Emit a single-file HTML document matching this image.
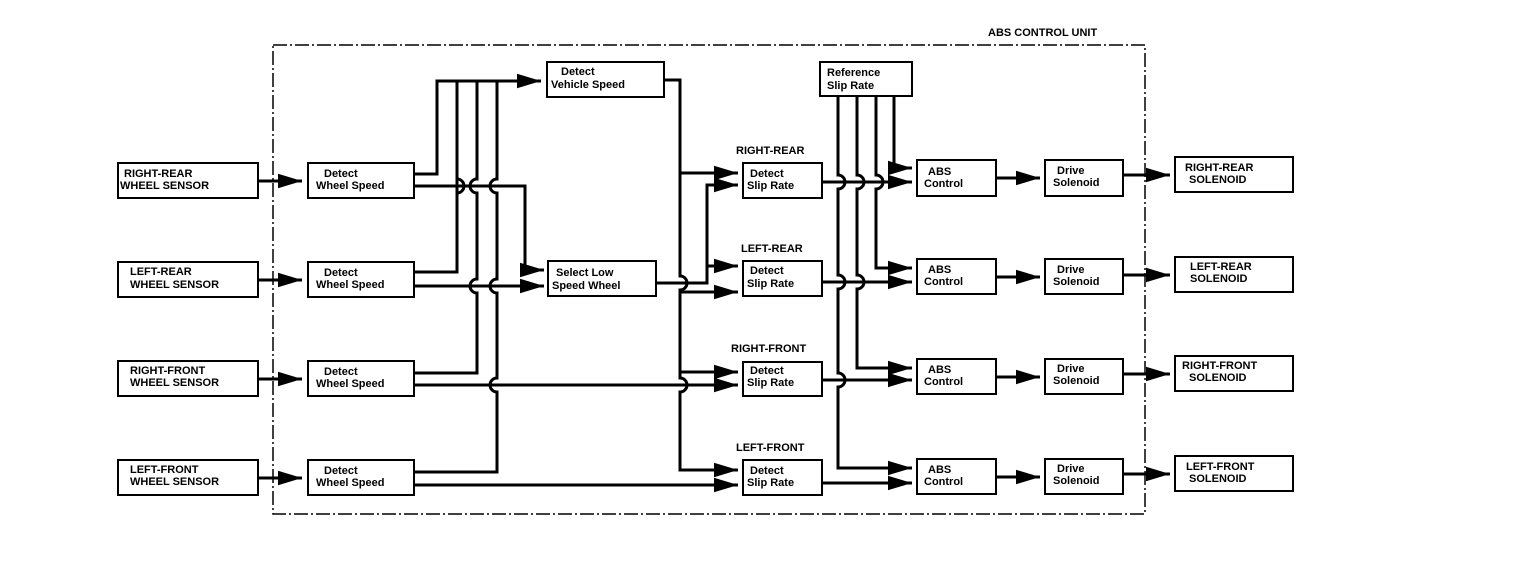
<!DOCTYPE html>
<html><head><meta charset="utf-8"><style>
html,body{margin:0;padding:0;background:#fff;}
svg{display:block;}
text{font-family:"Liberation Sans",sans-serif;font-weight:bold;font-size:11px;fill:#000;}
</style></head><body>
<svg width="1520" height="582" viewBox="0 0 1520 582" xmlns="http://www.w3.org/2000/svg">
<defs>
<marker id="a" markerWidth="8" markerHeight="6" refX="8" refY="3" orient="auto" markerUnits="strokeWidth">
<path d="M0,0.6 L8,3 L0,5.4 Z" fill="#000"/></marker>
</defs>
<g fill="none" stroke="#000">
<rect x="273" y="45" width="872" height="469" stroke-width="1.5" stroke-dasharray="14,3,2,3"/>
</g>
<text x="988" y="36">ABS CONTROL UNIT</text>
<g fill="#fff" stroke="#000" stroke-width="2">
<!-- sensors -->
<rect x="118" y="163" width="140" height="35"/>
<rect x="118" y="262" width="140" height="35"/>
<rect x="118" y="361" width="140" height="35"/>
<rect x="118" y="460" width="140" height="35"/>
<!-- DWS -->
<rect x="308" y="163" width="106" height="35"/>
<rect x="308" y="262" width="106" height="35"/>
<rect x="308" y="361" width="106" height="35"/>
<rect x="308" y="460" width="106" height="35"/>
<rect x="547" y="62" width="117" height="35"/>
<rect x="548" y="261" width="108" height="35"/>
<rect x="820" y="62" width="92" height="34"/>
<!-- DSR -->
<rect x="743" y="163" width="79" height="35"/>
<rect x="743" y="261" width="79" height="35"/>
<rect x="743" y="362" width="79" height="34"/>
<rect x="743" y="460" width="79" height="35"/>
<!-- ABS -->
<rect x="917" y="160" width="79" height="36"/>
<rect x="917" y="259" width="79" height="35"/>
<rect x="917" y="359" width="79" height="35"/>
<rect x="917" y="459" width="79" height="35"/>
<!-- Drive -->
<rect x="1045" y="160" width="78" height="36"/>
<rect x="1045" y="259" width="78" height="35"/>
<rect x="1045" y="359" width="78" height="35"/>
<rect x="1045" y="459" width="78" height="35"/>
<!-- solenoids -->
<rect x="1175" y="157" width="118" height="35"/>
<rect x="1175" y="257" width="118" height="35"/>
<rect x="1175" y="356" width="118" height="35"/>
<rect x="1175" y="456" width="118" height="35"/>
</g>
<g fill="none" stroke="#000" stroke-width="3">
<path d="M258 181 H302" marker-end="url(#a)"/>
<path d="M258 280 H302" marker-end="url(#a)"/>
<path d="M258 379 H302" marker-end="url(#a)"/>
<path d="M258 478 H302" marker-end="url(#a)"/>
<path d="M414 174 H437 V81 H541" marker-end="url(#a)"/>
<path d="M414 272 H457 V81"/>
<path d="M414 373 H477 V293 A7 7 0 0 1 477 279 V193 A7 7 0 0 1 477 179 V81"/>
<path d="M414 472 H497 V392 A7 7 0 0 1 497 378 V293 A7 7 0 0 1 497 279 V193 A7 7 0 0 1 497 179 V81"/>
<path d="M457 179 A7 7 0 0 1 457 193"/>
<path d="M414 186 H525 V270 H544" marker-end="url(#a)"/>
<path d="M414 286 H544" marker-end="url(#a)"/>
<path d="M414 385 H738" marker-end="url(#a)"/>
<path d="M414 485 H738" marker-end="url(#a)"/>
<path d="M664 80 H680 V276 A7 7 0 0 1 680 290 V378 A7 7 0 0 1 680 392 V470 H738" marker-end="url(#a)"/>
<path d="M680 173 H738" marker-end="url(#a)"/>
<path d="M680 292 H738" marker-end="url(#a)"/>
<path d="M680 372 H738" marker-end="url(#a)"/>
<path d="M656 283 H707 V185 H738" marker-end="url(#a)"/>
<path d="M707 266 H738" marker-end="url(#a)"/>
<path d="M838 96 V175 A7 7 0 0 1 838 189 V275 A7 7 0 0 1 838 289 V373 A7 7 0 0 1 838 387 V468 H912" marker-end="url(#a)"/>
<path d="M857 96 V175 A7 7 0 0 1 857 189 V275 A7 7 0 0 1 857 289 V368 H912" marker-end="url(#a)"/>
<path d="M876 96 V175 A7 7 0 0 1 876 189 V268 H912" marker-end="url(#a)"/>
<path d="M894 96 V168 H912" marker-end="url(#a)"/>
<path d="M822 182 H912" marker-end="url(#a)"/>
<path d="M822 282 H912" marker-end="url(#a)"/>
<path d="M822 380 H912" marker-end="url(#a)"/>
<path d="M822 483 H912" marker-end="url(#a)"/>
<path d="M996 178 H1040" marker-end="url(#a)"/>
<path d="M996 277 H1040" marker-end="url(#a)"/>
<path d="M996 377 H1040" marker-end="url(#a)"/>
<path d="M996 477 H1040" marker-end="url(#a)"/>
<path d="M1123 175 H1170" marker-end="url(#a)"/>
<path d="M1123 275 H1170" marker-end="url(#a)"/>
<path d="M1123 374 H1170" marker-end="url(#a)"/>
<path d="M1123 474 H1170" marker-end="url(#a)"/>
</g>
<g>
<text x="124" y="177">RIGHT-REAR</text><text x="120" y="189">WHEEL SENSOR</text>
<text x="130" y="275">LEFT-REAR</text><text x="130" y="288">WHEEL SENSOR</text>
<text x="130" y="374">RIGHT-FRONT</text><text x="130" y="386">WHEEL SENSOR</text>
<text x="130" y="473">LEFT-FRONT</text><text x="130" y="485">WHEEL SENSOR</text>
<text x="324" y="177">Detect</text><text x="316" y="189">Wheel Speed</text>
<text x="324" y="276">Detect</text><text x="316" y="288">Wheel Speed</text>
<text x="324" y="375">Detect</text><text x="316" y="387">Wheel Speed</text>
<text x="324" y="474">Detect</text><text x="316" y="486">Wheel Speed</text>
<text x="561" y="75">Detect</text><text x="551" y="88">Vehicle Speed</text>
<text x="556" y="276">Select Low</text><text x="552" y="289">Speed Wheel</text>
<text x="827" y="76">Reference</text><text x="827" y="89">Slip Rate</text>
<text x="736" y="154">RIGHT-REAR</text>
<text x="750" y="177">Detect</text><text x="747" y="189">Slip Rate</text>
<text x="741" y="252">LEFT-REAR</text>
<text x="750" y="274">Detect</text><text x="747" y="287">Slip Rate</text>
<text x="731" y="352">RIGHT-FRONT</text>
<text x="750" y="374">Detect</text><text x="747" y="386">Slip Rate</text>
<text x="736" y="451">LEFT-FRONT</text>
<text x="750" y="474">Detect</text><text x="747" y="486">Slip Rate</text>
<text x="928" y="175">ABS</text><text x="924" y="187">Control</text>
<text x="928" y="273">ABS</text><text x="924" y="285">Control</text>
<text x="928" y="373">ABS</text><text x="924" y="385">Control</text>
<text x="928" y="473">ABS</text><text x="924" y="485">Control</text>
<text x="1057" y="174">Drive</text><text x="1053" y="186">Solenoid</text>
<text x="1057" y="273">Drive</text><text x="1053" y="285">Solenoid</text>
<text x="1057" y="372">Drive</text><text x="1053" y="384">Solenoid</text>
<text x="1057" y="472">Drive</text><text x="1053" y="484">Solenoid</text>
<text x="1185" y="171">RIGHT-REAR</text><text x="1189" y="183">SOLENOID</text>
<text x="1190" y="270">LEFT-REAR</text><text x="1190" y="282">SOLENOID</text>
<text x="1182" y="369">RIGHT-FRONT</text><text x="1189" y="381">SOLENOID</text>
<text x="1186" y="470">LEFT-FRONT</text><text x="1189" y="482">SOLENOID</text>
</g>
</svg>
</body></html>
